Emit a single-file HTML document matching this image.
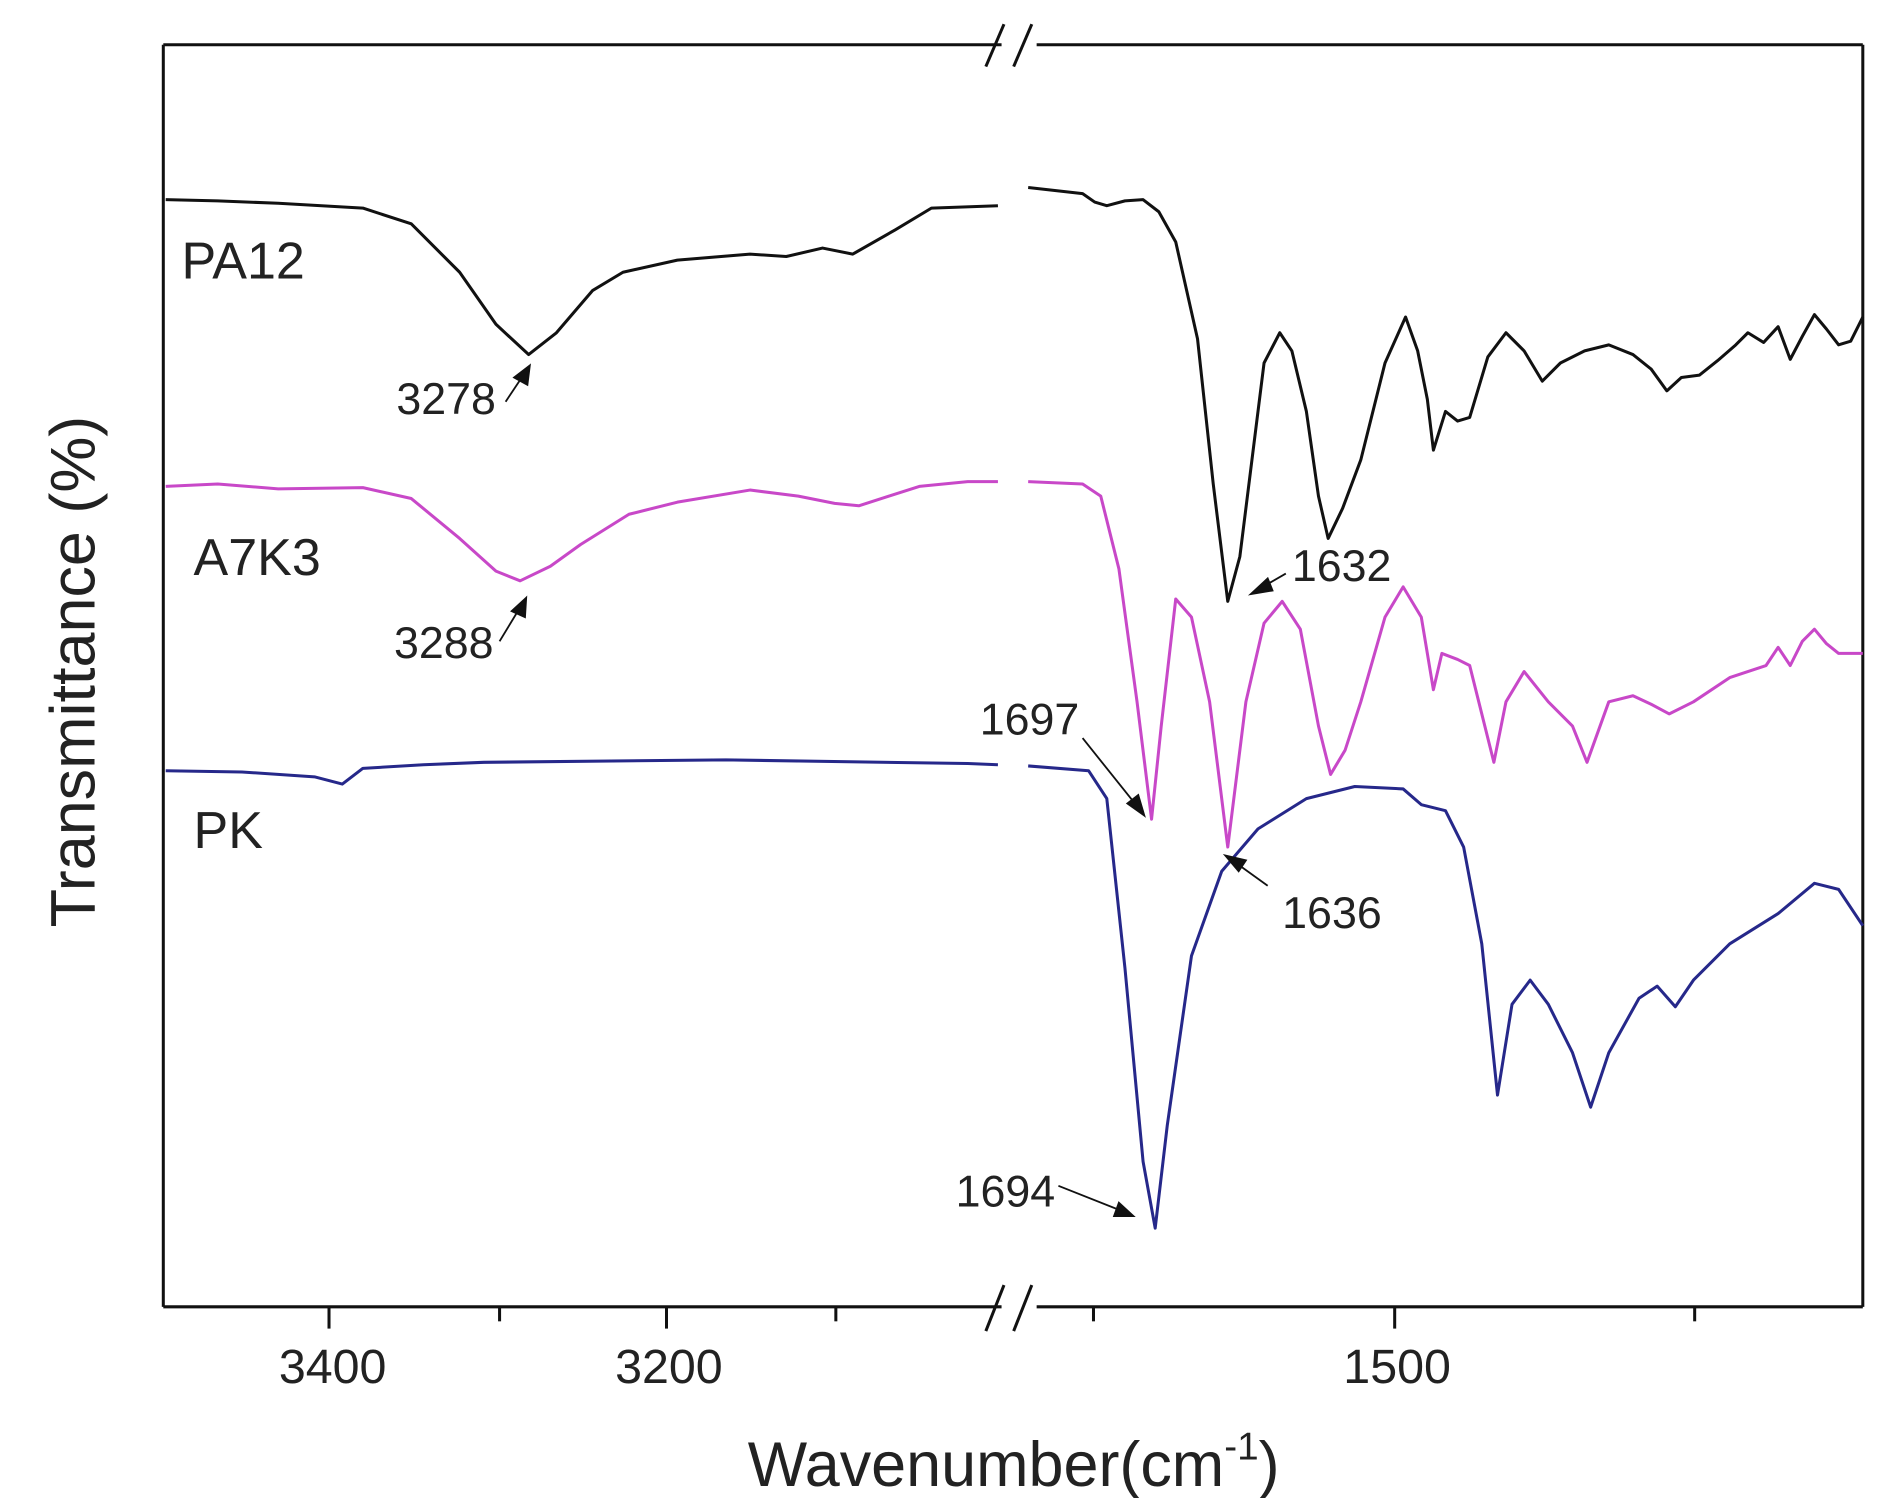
<!DOCTYPE html>
<html><head><meta charset="utf-8"><style>
html,body{margin:0;padding:0;background:#fff;}
svg{display:block;}
text{font-family:"Liberation Sans",Arial,sans-serif;fill:#222;}
</style></head><body>
<svg width="1887" height="1498" viewBox="0 0 1560 1238" preserveAspectRatio="none" xmlns="http://www.w3.org/2000/svg">
<rect width="1560" height="1238" fill="#fff"/>
<g stroke="#111" stroke-width="2.5" fill="none">
<line x1="135" y1="37" x2="828" y2="37"/><line x1="857" y1="37" x2="1540" y2="37"/>
<line x1="135" y1="1080" x2="828" y2="1080"/><line x1="857" y1="1080" x2="1540" y2="1080"/>
<line x1="135" y1="37" x2="135" y2="1080"/><line x1="1540" y1="37" x2="1540" y2="1080"/>
<line x1="815" y1="55" x2="830" y2="20"/><line x1="838" y1="55" x2="853" y2="20"/>
<line x1="815" y1="1100" x2="830" y2="1062"/><line x1="838" y1="1100" x2="853" y2="1062"/>
<line x1="272" y1="1080" x2="272" y2="1098"/><line x1="413" y1="1080" x2="413" y2="1092"/>
<line x1="551" y1="1080" x2="551" y2="1098"/><line x1="691" y1="1080" x2="691" y2="1092"/>
<line x1="904" y1="1080" x2="904" y2="1092"/><line x1="1153" y1="1080" x2="1153" y2="1098"/>
<line x1="1401" y1="1080" x2="1401" y2="1092"/>
</g>
<g font-size="40" text-anchor="middle">
<text x="275" y="1143">3400</text><text x="553" y="1143">3200</text><text x="1155" y="1143">1500</text>
</g>
<text x="838" y="1228" font-size="52" text-anchor="middle">Wavenumber(cm<tspan font-size="32" dy="-22">-1</tspan><tspan dy="22">)</tspan></text>
<text transform="translate(78,555) rotate(-90)" font-size="52" text-anchor="middle">Transmittance (%)</text>
<g fill="none" stroke-width="2.5" stroke-linejoin="round">
<polyline stroke="#111" points="137,165 180,166 230,168 300,172 340,185 380,225 410,268 437,293 460,275 490,240 515,225 560,215 620,210 650,212 680,205 705,210 740,190 770,172 825,170"/>
<polyline stroke="#111" points="850,155 895,160 905,167 915,170 930,166 945,165 958,175 972,200 990,280 1003,400 1015,497 1025,460 1035,380 1045,300 1058,275 1068,290 1080,340 1090,410 1098,445 1110,420 1125,380 1145,300 1162,262 1172,290 1180,330 1185,372 1195,340 1205,348 1215,345 1230,295 1245,275 1260,290 1275,315 1290,300 1310,290 1330,285 1350,293 1365,305 1378,323 1390,312 1405,310 1420,298 1435,285 1445,275 1458,283 1470,270 1480,297 1490,278 1500,260 1510,272 1520,285 1530,282 1540,262"/>
<polyline stroke="#c848c8" points="137,402 180,400 230,404 300,403 340,412 380,445 410,472 430,480 455,468 480,450 520,425 560,415 620,405 660,410 690,416 710,418 735,410 760,402 800,398 825,398"/>
<polyline stroke="#c848c8" points="850,398 895,400 910,410 925,470 940,580 952,677 960,600 972,495 985,510 1000,580 1015,700 1030,580 1045,515 1060,497 1075,520 1090,600 1100,640 1112,620 1125,580 1145,510 1160,485 1175,510 1185,570 1192,540 1205,545 1215,550 1225,590 1235,630 1245,580 1260,555 1280,580 1300,600 1312,630 1330,580 1350,575 1365,582 1380,590 1400,580 1430,560 1460,550 1470,535 1480,550 1490,530 1500,520 1510,532 1520,540 1540,540"/>
<polyline stroke="#26288a" points="137,637 200,638 260,642 283,648 300,635 350,632 400,630 600,628 800,631 825,632"/>
<polyline stroke="#26288a" points="850,633 900,637 915,660 930,800 945,960 955,1015 965,930 985,790 1010,720 1040,685 1080,660 1120,650 1160,652 1175,665 1195,670 1210,700 1225,780 1238,905 1250,830 1265,810 1280,830 1300,870 1315,915 1330,870 1355,825 1370,815 1385,832 1400,810 1430,780 1470,755 1500,730 1520,735 1540,765"/>
</g>
<g font-size="43"><text x="150" y="230">PA12</text><text x="160" y="475">A7K3</text><text x="160" y="701">PK</text></g>
<g font-size="37">
<text x="410" y="342" text-anchor="end">3278</text><text x="408" y="544" text-anchor="end">3288</text>
<text x="1068" y="480">1632</text><text x="810" y="607">1697</text>
<text x="1060" y="767">1636</text><text x="790" y="997">1694</text>
</g>
<g stroke="#111" stroke-width="1.5" fill="#111">
<line x1="418" y1="332" x2="436" y2="305"/><polygon points="438,302 425,312 436,318"/>
<line x1="413" y1="530" x2="433" y2="497"/><polygon points="435,494 423,505 434,510"/>
<line x1="1063" y1="474" x2="1037" y2="489"/><polygon points="1034,491 1048,478 1052,488"/>
<line x1="895" y1="610" x2="943" y2="670"/><polygon points="946,674 932,664 941,657"/>
<line x1="1048" y1="732" x2="1016" y2="709"/><polygon points="1013,707 1030,711 1024,720"/>
<line x1="875" y1="980" x2="933" y2="1003"/><polygon points="937,1005 921,1005 925,994"/>
</g>
</svg>
</body></html>
